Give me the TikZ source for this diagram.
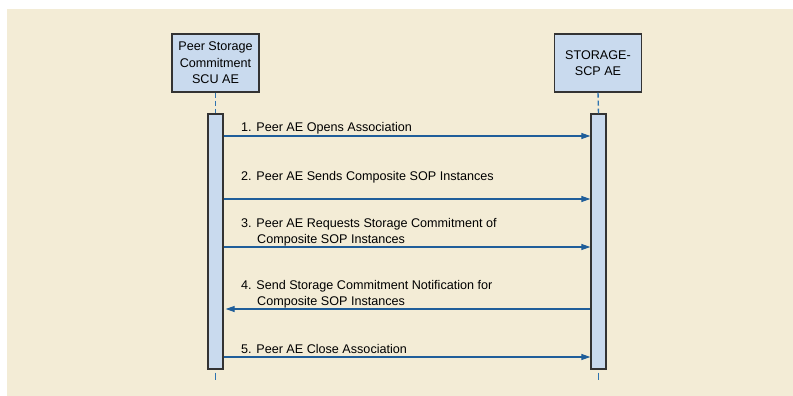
\documentclass[tikz,border=0pt]{standalone}
\usepackage{fontspec}
\setmainfont{Liberation Sans}
\usetikzlibrary{arrows.meta}
\definecolor{bg}{HTML}{F3ECD6}
\definecolor{boxfill}{HTML}{C9DAEE}
\definecolor{boxline}{HTML}{333333}
\definecolor{arr}{HTML}{1F5E9A}
\definecolor{life}{HTML}{2E73B0}
\tikzset{
  x=1pt,y=-1pt,
  actor/.style={draw=boxline,line width=1.3pt,fill=boxfill,minimum width=87pt,minimum height=58pt,align=center,inner sep=2pt,font=\fontsize{12.6}{16.5}\selectfont},
  bar/.style={draw=boxline,line width=1.3pt,fill=boxfill,minimum width=15pt,inner sep=0pt},
  msg/.style={draw=arr,line width=1.1pt,-{Triangle[length=9pt,width=6pt]}},
  lbl/.style={anchor=base west,font=\fontsize{12.6}{15.5}\selectfont,inner sep=0pt,align=left},
  lifeline/.style={draw=life,line width=1.4pt,dash pattern=on 5pt off 3pt}
}
\begin{document}
\begin{tikzpicture}
\useasboundingbox (0,0) rectangle (793,396);
\fill[bg] (7,9) rectangle (793,396);
\node[actor] (scu) at (215.5,63) {Peer Storage\\Commitment\\SCU AE};
\node[actor] (scp) at (598,63) {STORAGE-\\SCP AE};
\node[bar,minimum height=255pt] (lbar) at (215.5,241.5) {};
\node[bar,minimum height=255pt] (rbar) at (598.5,241.5) {};
\coordinate (lend) at (215.5,380);
\coordinate (rend) at (598.5,380);
\draw[lifeline] (scu.south) -- (lbar.north);
\draw[lifeline] (scp.south) -- (rbar.north);
\draw[life,line width=1.4pt] (lbar.south) ++(0,3) -- (lend);
\draw[life,line width=1.4pt] (rbar.south) ++(0,3) -- (rend);
% messages
\draw[msg] (lbar.east |- 0,136) -- (rbar.west |- 0,136);
\draw[msg] (lbar.east |- 0,199) -- (rbar.west |- 0,199);
\draw[msg] (lbar.east |- 0,247) -- (rbar.west |- 0,247);
\draw[msg] (rbar.west |- 0,309) -- ([xshift=2pt]lbar.east |- 0,309);
\draw[msg] (lbar.east |- 0,357) -- (rbar.west |- 0,357);
\node[lbl] (l1) at (241,131.5) {1. Peer AE Opens Association};
\node[lbl] (l2) at (241,180) {2. Peer AE Sends Composite SOP Instances};
\node[lbl] (l3) at (241,243) {3. Peer AE Requests Storage Commitment of\\\hspace*{16pt}Composite SOP Instances};
\node[lbl] (l4) at (241,305) {4. Send Storage Commitment Notification for\\\hspace*{16pt}Composite SOP Instances};
\node[lbl] (l5) at (241,353.5) {5. Peer AE Close Association};
\end{tikzpicture}
\end{document}
